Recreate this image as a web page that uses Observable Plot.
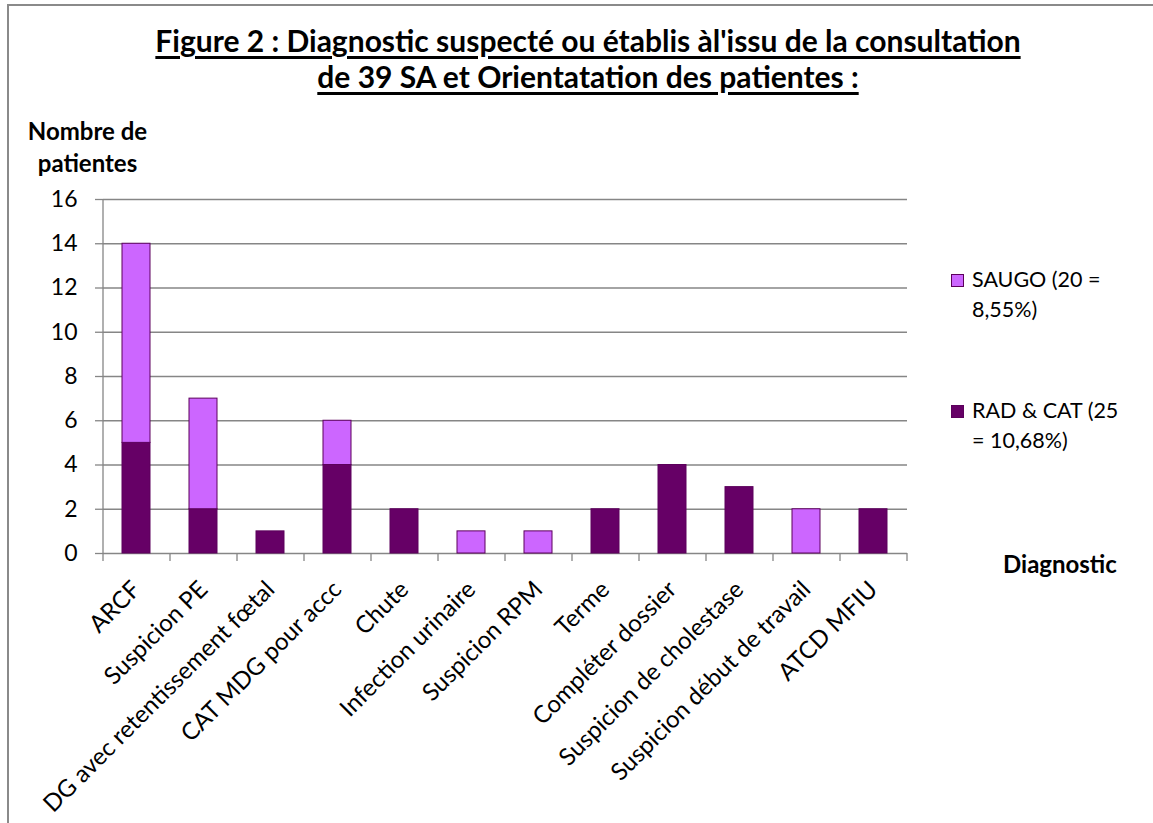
<!DOCTYPE html>
<html><head><meta charset="utf-8">
<script src="https://cdn.jsdelivr.net/npm/d3@7"></script>
<script src="https://cdn.jsdelivr.net/npm/@observablehq/plot@0.6"></script>
<style>
body{margin:0;background:#fff;font-family:Lato, sans-serif;}
#wrap{position:relative;width:1153px;height:823px;overflow:hidden;background:#fff;}
#frame{position:absolute;left:7px;top:4px;width:1170px;height:900px;border:2.5px solid #8a8a8a;box-sizing:border-box;}
.t{position:absolute;white-space:nowrap;color:#000;}
#title{left:0;width:1176px;top:22px;text-align:center;font-weight:bold;font-size:30px;line-height:36px;text-decoration:underline;text-decoration-thickness:2.5px;text-underline-offset:4px;}
#ytitle{left:0;width:175px;top:115px;text-align:center;font-weight:bold;font-size:24px;line-height:32px;}
.leg{left:972px;font-size:21.5px;line-height:30px;}
.sw{position:absolute;width:13px;height:13px;box-sizing:border-box;border:1px solid #5c005c;}
#xtitle{left:1003px;top:549px;font-weight:bold;font-size:24px;line-height:30px;}
</style></head><body>
<div id="wrap">
<div id="frame"></div>
<div id="chart" style="position:absolute;left:0;top:0"></div>
<div class="t" id="title"></div>
<div class="t" id="ytitle"></div>
<div class="t" id="xtitle"></div>
<div id="legend"></div>
</div>
<script>
const titleLines = ["Figure 2 : Diagnostic suspecté ou établis àl'issu de la consultation", "de 39 SA et Orientatation des patientes :"];
const yTitleLines = ["Nombre de", "patientes"];
const xTitle = "Diagnostic";
const categories = ["ARCF", "Suspicion PE", "DG avec retentissement fœtal", "CAT MDG pour accc", "Chute", "Infection urinaire", "Suspicion RPM", "Terme", "Compléter dossier", "Suspicion de cholestase", "Suspicion début de travail", "ATCD MFIU"];
const radCat = [5, 2, 1, 4, 2, 0, 0, 2, 4, 3, 0, 2];
const saugo = [9, 5, 0, 2, 0, 1, 1, 0, 0, 0, 2, 0];
const seriesNames = ["RAD & CAT (25 = 10,68%)", "SAUGO (20 = 8,55%)"];
const legendLines = [["SAUGO (20 =", "8,55%)"], ["RAD & CAT (25", "= 10,68%)"]];
const seriesColors = ["#660066", "#cc66ff"];
const yTicks = [0, 2, 4, 6, 8, 10, 12, 14, 16];

document.getElementById("title").innerHTML = titleLines.join("<br>");
document.getElementById("ytitle").innerHTML = yTitleLines.join("<br>");
document.getElementById("xtitle").textContent = xTitle;

const data = [];
categories.forEach((c, i) => {
  if (radCat[i] > 0) data.push({cat: c, series: seriesNames[0], value: radCat[i]});
  if (saugo[i] > 0) data.push({cat: c, series: seriesNames[1], value: saugo[i]});
});

const W = 1153, H = 823, mL = 103, mR = 246, mT = 199, mB = 270;
const half = (W - mL - mR) / categories.length / 2;

const chart = Plot.plot({
  width: W, height: H, marginLeft: mL, marginRight: mR, marginTop: mT, marginBottom: mB,
  style: {fontFamily: "Lato, sans-serif", fontSize: "22px", color: "#000", background: "transparent", overflow: "visible"},
  x: {domain: categories, paddingInner: 0.58, paddingOuter: 0.29, label: null},
  y: {domain: [0, 16], label: null},
  color: {domain: seriesNames, range: seriesColors},
  marks: [
    Plot.gridY(yTicks.slice(1), {stroke: "#868686", strokeOpacity: 1, strokeWidth: 1.3}),
    Plot.ruleY([0], {stroke: "#868686", strokeWidth: 1.3}),
    Plot.ruleX([categories[0]], {dx: -half, y1: 0, y2: 16, stroke: "#868686", strokeWidth: 1.3}),
    Plot.axisY({ticks: yTicks, tickSize: 8, tickPadding: 18, stroke: "#868686", strokeWidth: 1.3, fontSize: 23, label: null}),
    Plot.axisX({tickSize: 8, tickFormat: () => "", dx: -half, stroke: "#868686", strokeWidth: 1.3, label: null}),
    Plot.axisX({ticks: [categories[categories.length - 1]], tickSize: 8, tickFormat: () => "", dx: half, stroke: "#868686", strokeWidth: 1.3, label: null}),
    Plot.axisX({tickSize: 0, tickPadding: 32, tickRotate: -45, dx: 0, fontSize: 24, label: null}),
    Plot.barY(data, {x: "cat", y: "value", fill: "series", stroke: "#5c005c", strokeWidth: 1, order: seriesNames})
  ]
});
document.getElementById("chart").appendChild(chart);

const legend = document.getElementById("legend");
const legTops = [264, 395];
const legOrder = [1, 0];
legendLines.forEach((lines, k) => {
  const d = document.createElement("div");
  d.className = "t leg";
  d.style.top = legTops[k] + "px";
  d.innerHTML = lines.join("<br>");
  legend.appendChild(d);
  const s = document.createElement("div");
  s.className = "sw";
  s.style.left = "951px";
  s.style.top = (legTops[k] + 10) + "px";
  s.style.background = seriesColors[legOrder[k]];
  legend.appendChild(s);
});
</script>
</body></html>
